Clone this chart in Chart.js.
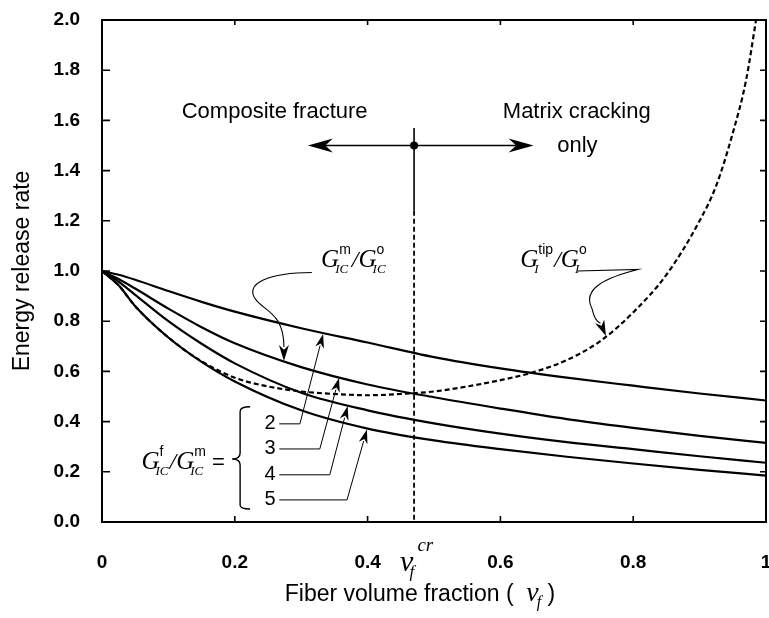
<!DOCTYPE html>
<html><head><meta charset="utf-8">
<script src="https://cdn.jsdelivr.net/npm/chart.js@4.4.1/dist/chart.umd.min.js"></script>
<style>html,body{margin:0;padding:0;background:#fff;}#wrap{width:769px;height:618px;}</style>
</head><body><div id="wrap"><canvas id="c" width="769" height="618"></canvas></div>
<script>
// ---- data ----
const xValues = [0, 0.025, 0.05, 0.1, 0.15, 0.2, 0.3, 0.4, 0.5, 0.6, 0.7, 0.8, 0.9, 1.0];
const ratio2 = [1.0, 0.985, 0.965, 0.92, 0.877, 0.838, 0.772, 0.715, 0.657, 0.612, 0.575, 0.543, 0.512, 0.484];
const ratio3 = [1.0, 0.968, 0.93, 0.85, 0.776, 0.712, 0.617, 0.548, 0.497, 0.452, 0.41, 0.375, 0.343, 0.315];
const ratio4 = [1.0, 0.958, 0.905, 0.80, 0.71, 0.632, 0.515, 0.445, 0.393, 0.352, 0.318, 0.29, 0.262, 0.236];
const ratio5 = [1.0, 0.943, 0.86, 0.735, 0.638, 0.56, 0.445, 0.372, 0.325, 0.29, 0.26, 0.233, 0.208, 0.185];
const tipX = [0, 0.025, 0.05, 0.1, 0.15, 0.2, 0.25, 0.3, 0.35, 0.4, 0.45, 0.5, 0.55, 0.6, 0.65, 0.7, 0.75, 0.8, 0.85, 0.9, 0.925, 0.95, 0.97, 0.985];
const tipY = [1.0, 0.943, 0.86, 0.735, 0.64, 0.575, 0.54, 0.52, 0.51, 0.505, 0.51, 0.52, 0.54, 0.565, 0.597, 0.645, 0.72, 0.835, 0.985, 1.2, 1.34, 1.55, 1.76, 2.0];
const ratioLabels = ['2', '3', '4', '5'];
const xTickLabels = ['0', '0.2', '0.4', '0.6', '0.8', '1'];
const yTickLabels = ['0.0', '0.2', '0.4', '0.6', '0.8', '1.0', '1.2', '1.4', '1.6', '1.8', '2.0'];
const vfCritical = 0.47;

const SANS = '"Liberation Sans", Arial, Helvetica, sans-serif';
const SERIF = '"Liberation Serif", "Times New Roman", serif';

function pts(xs, ys) { return xs.map((x, i) => ({ x: x, y: ys[i] })); }
function interp(xs, ys, v) {
  for (let i = 1; i < xs.length; i++) {
    if (v <= xs[i]) { const t = (v - xs[i - 1]) / (xs[i] - xs[i - 1]); return ys[i - 1] + t * (ys[i] - ys[i - 1]); }
  }
  return ys[ys.length - 1];
}

function richWidth(ctx, runs) {
  let w = 0;
  for (const r of runs) {
    if (r.stack) {
      let m = 0;
      for (const s of r.stack) { ctx.font = s.font; m = Math.max(m, ctx.measureText(s.t).width + (s.dx || 0)); }
      w += m;
    } else { ctx.font = r.font; w += ctx.measureText(r.t).width + (r.dx || 0); }
  }
  return w;
}
function drawRich(ctx, x, y, runs, align) {
  const w = richWidth(ctx, runs);
  let cx = align === 'center' ? x - w / 2 : align === 'right' ? x - w : x;
  ctx.textAlign = 'left'; ctx.textBaseline = 'alphabetic';
  for (const r of runs) {
    if (r.stack) {
      let m = 0;
      for (const s of r.stack) {
        ctx.font = s.font;
        ctx.fillText(s.t, cx + (s.dx || 0), y + (s.dy || 0));
        m = Math.max(m, ctx.measureText(s.t).width + (s.dx || 0));
      }
      cx += m;
    } else {
      ctx.font = r.font;
      ctx.fillText(r.t, cx + (r.dx || 0), y + (r.dy || 0));
      cx += ctx.measureText(r.t).width + (r.dx || 0);
    }
  }
}
function arrowHead(ctx, tx, ty, ang, len, hw) {
  const c = Math.cos(ang), s = Math.sin(ang);
  const P = (u, v) => [tx + u * c - v * s, ty + u * s + v * c];
  ctx.beginPath();
  ctx.moveTo(...P(0, 0));
  ctx.lineTo(...P(-len, hw));
  ctx.lineTo(...P(-len * 0.7, 0));
  ctx.lineTo(...P(-len, -hw));
  ctx.closePath();
  ctx.fill();
}

const GI = 'italic 25px ' + SERIF;
const SUBF = 'italic 13px ' + SERIF;
const SUPF = '14px ' + SANS;
const SLASH = 'italic 24px ' + SERIF;

const annot = {
  id: 'annot',
  afterDraw(chart) {
    const { ctx, chartArea: a, scales: { x, y } } = chart;
    const X = v => x.getPixelForValue(v), Y = v => y.getPixelForValue(v);
    ctx.save();
    ctx.strokeStyle = '#000'; ctx.fillStyle = '#000';

    // frame
    ctx.lineWidth = 2;
    ctx.strokeRect(a.left, a.top, a.right - a.left, a.bottom - a.top);
    // inward ticks on all four sides
    ctx.lineWidth = 1.6;
    ctx.beginPath();
    x.ticks.forEach(t => {
      const px = X(t.value);
      ctx.moveTo(px, a.bottom); ctx.lineTo(px, a.bottom - 6);
      ctx.moveTo(px, a.top); ctx.lineTo(px, a.top + 5);
    });
    y.ticks.forEach(t => {
      const py = Y(t.value);
      ctx.moveTo(a.left, py); ctx.lineTo(a.left + 8, py);
      ctx.moveTo(a.right, py); ctx.lineTo(a.right - 6, py);
    });
    ctx.stroke();

    // critical fibre fraction line
    const xc = X(vfCritical);
    ctx.lineWidth = 1.6;
    ctx.beginPath(); ctx.moveTo(xc, Y(1.57)); ctx.lineTo(xc, Y(1.24)); ctx.stroke();
    ctx.setLineDash([5, 3]);
    ctx.lineWidth = 1.8;
    ctx.beginPath(); ctx.moveTo(xc, Y(1.24)); ctx.lineTo(xc, a.bottom); ctx.stroke();
    ctx.setLineDash([]);

    // double arrow with dot
    const ya = Y(1.5);
    ctx.lineWidth = 1.6;
    ctx.beginPath(); ctx.moveTo(X(0.31) + 15, ya); ctx.lineTo(X(0.65) - 15, ya); ctx.stroke();
    arrowHead(ctx, X(0.31), ya, Math.PI, 25, 7);
    arrowHead(ctx, X(0.65), ya, 0, 25, 7);
    ctx.beginPath(); ctx.arc(xc, ya, 4, 0, Math.PI * 2); ctx.fill();

    // region labels
    ctx.font = '22px ' + SANS; ctx.textAlign = 'center'; ctx.textBaseline = 'alphabetic';
    ctx.fillText('Composite fracture', X(0.26), Y(1.61));
    ctx.fillText('Matrix cracking', X(0.715), Y(1.61));
    ctx.fillText('only', X(0.716), Y(1.475));

    // G_IC^m / G_IC^o label + leader
    drawRich(ctx, X(0.33), Y(1.014), [
      { t: 'G', font: GI },
      { stack: [{ t: 'm', font: SUPF, dy: -13 }, { t: 'IC', font: SUBF, dy: 6, dx: -4 }] },
      { t: '/', font: SLASH, dx: 1 },
      { t: 'G', font: GI },
      { stack: [{ t: 'o', font: SUPF, dy: -13 }, { t: 'IC', font: SUBF, dy: 6, dx: -4 }] }
    ], 'left');
    ctx.lineWidth = 1.1;
    const mTipX = 0.274, mTipY = interp(xValues, ratio3, mTipX);
    ctx.beginPath();
    ctx.moveTo(X(0.316), Y(0.994));
    ctx.bezierCurveTo(X(0.253), Y(0.994), X(0.212), Y(0.95), X(0.232), Y(0.885));
    ctx.bezierCurveTo(X(0.245), Y(0.84), X(0.274), Y(0.83), X(mTipX), Y(mTipY) - 14);
    ctx.stroke();
    arrowHead(ctx, X(mTipX), Y(mTipY), Math.PI / 2, 16, 5);

    // G_I^tip / G_I^o label + leader
    drawRich(ctx, X(0.63), Y(1.014), [
      { t: 'G', font: GI },
      { stack: [{ t: 'tip', font: SUPF, dy: -13 }, { t: 'I', font: SUBF, dy: 6, dx: -4 }] },
      { t: '/', font: SLASH, dx: 1 },
      { t: 'G', font: GI },
      { stack: [{ t: 'o', font: SUPF, dy: -13 }, { t: 'I', font: SUBF, dy: 6, dx: -4 }] }
    ], 'left');
    const tTipX = 0.759, tTipY = interp(tipX, tipY, tTipX);
    const tipPx = X(tTipX), tipPy = Y(tTipY);
    const tAng = Math.atan2(14, 6);
    ctx.beginPath();
    ctx.moveTo(X(0.716), Y(1.0));
    ctx.lineTo(X(0.807), Y(1.006));
    ctx.bezierCurveTo(X(0.76), Y(0.975), X(0.722), Y(0.93), X(0.738), Y(0.85));
    ctx.quadraticCurveTo(X(0.742), Y(0.8), tipPx - 14 * Math.cos(tAng), tipPy - 14 * Math.sin(tAng));
    ctx.stroke();
    arrowHead(ctx, tipPx, tipPy, tAng, 16, 5);

    // ratio legend: G_IC^f / G_IC^m = { 2 3 4 5
    drawRich(ctx, X(0.185), Y(0.211), [
      { t: 'G', font: GI },
      { stack: [{ t: 'f', font: SUPF, dy: -13 }, { t: 'IC', font: SUBF, dy: 6, dx: -4 }] },
      { t: '/', font: SLASH, dx: 1 },
      { t: 'G', font: GI },
      { stack: [{ t: 'm', font: SUPF, dy: -13 }, { t: 'IC', font: SUBF, dy: 6, dx: -4 }] },
      { t: ' =', font: '22px ' + SANS }
    ], 'right');
    // brace
    ctx.lineWidth = 1.4;
    ctx.beginPath();
    ctx.moveTo(X(0.223), Y(0.459));
    ctx.quadraticCurveTo(X(0.208), Y(0.459), X(0.208), Y(0.44));
    ctx.lineTo(X(0.208), Y(0.275));
    ctx.quadraticCurveTo(X(0.208), Y(0.251), X(0.196), Y(0.251));
    ctx.quadraticCurveTo(X(0.208), Y(0.251), X(0.208), Y(0.227));
    ctx.lineTo(X(0.208), Y(0.068));
    ctx.quadraticCurveTo(X(0.208), Y(0.052), X(0.223), Y(0.052));
    ctx.stroke();

    const series = [ratio2, ratio3, ratio4, ratio5];
    const labelY = [0.391, 0.291, 0.188, 0.088];
    const kinkX = [0.298, 0.328, 0.343, 0.369];
    const arrowX = [0.333, 0.357, 0.370, 0.399];
    ctx.font = '20px ' + SANS; ctx.textAlign = 'center'; ctx.textBaseline = 'middle';
    ratioLabels.forEach((lab, i) => {
      ctx.fillText(lab, X(0.253), Y(labelY[i]));
    });
    ctx.lineWidth = 1;
    ratioLabels.forEach((lab, i) => {
      const ty = interp(xValues, series[i], arrowX[i]);
      const tx = X(arrowX[i]), tyPx = Y(ty) + 1;
      const kx = X(kinkX[i]), ky = Y(labelY[i]);
      const ang = Math.atan2(tyPx - ky, tx - kx);
      ctx.beginPath();
      ctx.moveTo(X(0.267), ky); ctx.lineTo(kx, ky);
      ctx.lineTo(tx - 12 * Math.cos(ang), tyPx - 12 * Math.sin(ang));
      ctx.stroke();
      arrowHead(ctx, tx, tyPx, ang, 14, 4.5);
    });

    // v_f^cr under the axis
    drawRich(ctx, xc - 14, a.bottom + 49, [
      { t: 'v', font: 'italic 30px ' + SERIF },
      { stack: [{ t: 'cr', font: 'italic 19px ' + SERIF, dy: -20, dx: 4 }, { t: 'f', font: 'italic 17px ' + SERIF, dy: 6, dx: -4 }] }
    ], 'left');

    // axis titles
    drawRich(ctx, 420, a.bottom + 79, [
      { t: 'Fiber volume fraction (  ', font: '23px ' + SANS },
      { t: 'v', font: 'italic 28px ' + SERIF },
      { t: 'f', font: 'italic 16px ' + SERIF, dy: 6, dx: -2 },
      { t: ' )', font: '23px ' + SANS }
    ], 'center');
    ctx.save();
    ctx.translate(29, (a.top + a.bottom) / 2);
    ctx.rotate(-Math.PI / 2);
    ctx.font = '23px ' + SANS; ctx.textAlign = 'center'; ctx.textBaseline = 'alphabetic';
    ctx.fillText('Energy release rate', 0, 0);
    ctx.restore();

    ctx.restore();
  }
};

const solid = (d) => ({ data: d, borderColor: '#000', borderWidth: 2.2, pointRadius: 0, fill: false, cubicInterpolationMode: 'monotone' });
const tickFont = { family: SANS, size: 19, weight: 'bold' };

new Chart(document.getElementById('c'), {
  type: 'line',
  data: {
    datasets: [
      solid(pts(xValues, ratio2)),
      solid(pts(xValues, ratio3)),
      solid(pts(xValues, ratio4)),
      solid(pts(xValues, ratio5)),
      { data: pts(tipX, tipY), borderColor: '#000', borderWidth: 2.2, borderDash: [5, 3], pointRadius: 0, fill: false, cubicInterpolationMode: 'monotone' }
    ]
  },
  options: {
    responsive: false,
    animation: false,
    layout: { padding: { top: 20, right: 3, left: 0, bottom: 0 } },
    plugins: { legend: { display: false }, tooltip: { enabled: false } },
    scales: {
      x: {
        type: 'linear', min: 0, max: 1,
        grid: { display: false, drawTicks: false },
        border: { display: false },
        ticks: { stepSize: 0.2, color: '#000', font: tickFont, padding: 29, maxRotation: 0,
          callback: (v, i) => xTickLabels[i] },
        afterFit: s => { s.height = 96; s.paddingLeft = 0; s.paddingRight = 0; }
      },
      y: {
        type: 'linear', min: 0, max: 2,
        grid: { display: false, drawTicks: false },
        border: { display: false },
        ticks: { stepSize: 0.2, color: '#000', font: tickFont, padding: 22,
          callback: (v, i) => yTickLabels[i] },
        afterFit: s => { s.width = 102; s.paddingTop = 0; s.paddingBottom = 0; }
      }
    }
  },
  plugins: [annot]
});
</script>
</body></html>
